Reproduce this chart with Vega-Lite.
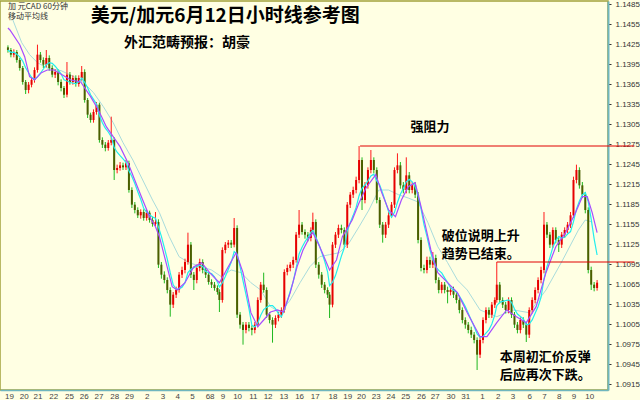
{
"$schema":"https://vega.github.io/schema/vega-lite/v6.json",
"width":608,"height":389,
"autosize":{"type":"none"},
"padding":{"left":0,"top":1,"right":32,"bottom":10},
"background":"#ffffe3",
"datasets":{
"candles":[
{"t":3,"o":1.1420,"h":1.1423,"l":1.1412,"c":1.1416},
{"t":6,"o":1.1416,"h":1.1419,"l":1.1405,"c":1.1409},
{"t":9,"o":1.1409,"h":1.1417,"l":1.1405,"c":1.1413},
{"t":12,"o":1.1413,"h":1.1416,"l":1.1397,"c":1.1401},
{"t":15,"o":1.1401,"h":1.1404,"l":1.1385,"c":1.1389},
{"t":18,"o":1.1389,"h":1.1392,"l":1.1364,"c":1.1368},
{"t":21,"o":1.1368,"h":1.1371,"l":1.1350,"c":1.1356},
{"t":24,"o":1.1356,"h":1.1368,"l":1.1351,"c":1.1364},
{"t":27,"o":1.1364,"h":1.1375,"l":1.1360,"c":1.1371},
{"t":30,"o":1.1371,"h":1.1390,"l":1.1367,"c":1.1386},
{"t":33,"o":1.1386,"h":1.1424,"l":1.1382,"c":1.1409},
{"t":36,"o":1.1409,"h":1.1413,"l":1.1397,"c":1.1401},
{"t":39,"o":1.1401,"h":1.1405,"l":1.1389,"c":1.1394},
{"t":42,"o":1.1394,"h":1.1416,"l":1.1390,"c":1.1404},
{"t":45,"o":1.1404,"h":1.1408,"l":1.1385,"c":1.1389},
{"t":48,"o":1.1389,"h":1.1393,"l":1.1375,"c":1.1379},
{"t":51,"o":1.1379,"h":1.1387,"l":1.1374,"c":1.1383},
{"t":54,"o":1.1383,"h":1.1387,"l":1.1363,"c":1.1368},
{"t":57,"o":1.1368,"h":1.1372,"l":1.1354,"c":1.1359},
{"t":60,"o":1.1359,"h":1.1362,"l":1.1344,"c":1.1349},
{"t":63,"o":1.1349,"h":1.1398,"l":1.1345,"c":1.1379},
{"t":66,"o":1.1379,"h":1.1383,"l":1.1364,"c":1.1368},
{"t":69,"o":1.1368,"h":1.1378,"l":1.1364,"c":1.1374},
{"t":72,"o":1.1374,"h":1.1378,"l":1.1361,"c":1.1365},
{"t":75,"o":1.1365,"h":1.1378,"l":1.1361,"c":1.1374},
{"t":78,"o":1.1374,"h":1.1392,"l":1.1370,"c":1.1383},
{"t":81,"o":1.1383,"h":1.1387,"l":1.1337,"c":1.1341},
{"t":84,"o":1.1341,"h":1.1344,"l":1.1314,"c":1.1319},
{"t":87,"o":1.1319,"h":1.1322,"l":1.1307,"c":1.1311},
{"t":90,"o":1.1311,"h":1.1327,"l":1.1307,"c":1.1323},
{"t":93,"o":1.1323,"h":1.1338,"l":1.1319,"c":1.1334},
{"t":96,"o":1.1334,"h":1.1337,"l":1.1277,"c":1.1281},
{"t":99,"o":1.1281,"h":1.1285,"l":1.1269,"c":1.1274},
{"t":102,"o":1.1274,"h":1.1278,"l":1.1264,"c":1.1269},
{"t":105,"o":1.1269,"h":1.1281,"l":1.1265,"c":1.1277},
{"t":108,"o":1.1277,"h":1.1316,"l":1.1273,"c":1.1281},
{"t":111,"o":1.1281,"h":1.1285,"l":1.1221,"c":1.1236},
{"t":114,"o":1.1236,"h":1.1244,"l":1.1231,"c":1.1239},
{"t":117,"o":1.1239,"h":1.1248,"l":1.1235,"c":1.1243},
{"t":120,"o":1.1243,"h":1.1247,"l":1.1236,"c":1.1240},
{"t":123,"o":1.1240,"h":1.1251,"l":1.1236,"c":1.1246},
{"t":126,"o":1.1246,"h":1.1250,"l":1.1202,"c":1.1206},
{"t":129,"o":1.1206,"h":1.1210,"l":1.1179,"c":1.1184},
{"t":132,"o":1.1184,"h":1.1188,"l":1.1171,"c":1.1176},
{"t":135,"o":1.1176,"h":1.1180,"l":1.1164,"c":1.1168},
{"t":138,"o":1.1168,"h":1.1177,"l":1.1163,"c":1.1173},
{"t":141,"o":1.1173,"h":1.1177,"l":1.1160,"c":1.1164},
{"t":144,"o":1.1164,"h":1.1176,"l":1.1160,"c":1.1172},
{"t":147,"o":1.1172,"h":1.1175,"l":1.1157,"c":1.1161},
{"t":150,"o":1.1161,"h":1.1166,"l":1.1151,"c":1.1155},
{"t":153,"o":1.1155,"h":1.1173,"l":1.1152,"c":1.1158},
{"t":156,"o":1.1158,"h":1.1162,"l":1.1089,"c":1.1094},
{"t":159,"o":1.1094,"h":1.1098,"l":1.1073,"c":1.1079},
{"t":162,"o":1.1079,"h":1.1084,"l":1.1066,"c":1.1071},
{"t":165,"o":1.1071,"h":1.1075,"l":1.1051,"c":1.1056},
{"t":168,"o":1.1056,"h":1.1060,"l":1.1016,"c":1.1034},
{"t":171,"o":1.1034,"h":1.1053,"l":1.1029,"c":1.1049},
{"t":174,"o":1.1049,"h":1.1061,"l":1.1044,"c":1.1056},
{"t":177,"o":1.1056,"h":1.1083,"l":1.1052,"c":1.1079},
{"t":180,"o":1.1079,"h":1.1091,"l":1.1074,"c":1.1086},
{"t":183,"o":1.1086,"h":1.1103,"l":1.1081,"c":1.1098},
{"t":186,"o":1.1098,"h":1.1142,"l":1.1094,"c":1.1124},
{"t":189,"o":1.1124,"h":1.1128,"l":1.1074,"c":1.1079},
{"t":192,"o":1.1079,"h":1.1083,"l":1.1056,"c":1.1071},
{"t":195,"o":1.1071,"h":1.1094,"l":1.1066,"c":1.1089},
{"t":198,"o":1.1089,"h":1.1103,"l":1.1084,"c":1.1098},
{"t":201,"o":1.1098,"h":1.1102,"l":1.1081,"c":1.1086},
{"t":204,"o":1.1086,"h":1.1090,"l":1.1074,"c":1.1079},
{"t":207,"o":1.1079,"h":1.1083,"l":1.1064,"c":1.1068},
{"t":210,"o":1.1068,"h":1.1072,"l":1.1059,"c":1.1064},
{"t":213,"o":1.1064,"h":1.1068,"l":1.1055,"c":1.1059},
{"t":216,"o":1.1059,"h":1.1063,"l":1.1049,"c":1.1053},
{"t":218,"o":1.1053,"h":1.1057,"l":1.1023,"c":1.1041},
{"t":221,"o":1.1041,"h":1.1120,"l":1.1037,"c":1.1116},
{"t":224,"o":1.1116,"h":1.1128,"l":1.1111,"c":1.1124},
{"t":227,"o":1.1124,"h":1.1131,"l":1.1119,"c":1.1127},
{"t":230,"o":1.1127,"h":1.1131,"l":1.1119,"c":1.1124},
{"t":233,"o":1.1124,"h":1.1164,"l":1.1120,"c":1.1149},
{"t":236,"o":1.1149,"h":1.1153,"l":1.1014,"c":1.1019},
{"t":239,"o":1.1019,"h":1.1023,"l":1.0998,"c":1.1004},
{"t":242,"o":1.1004,"h":1.1008,"l":1.0974,"c":1.0996},
{"t":245,"o":1.0996,"h":1.1008,"l":1.0991,"c":1.1004},
{"t":248,"o":1.1004,"h":1.1008,"l":1.0994,"c":1.0999},
{"t":251,"o":1.0999,"h":1.1003,"l":1.0988,"c":1.0996},
{"t":254,"o":1.0996,"h":1.1008,"l":1.0991,"c":1.1004},
{"t":257,"o":1.1004,"h":1.1045,"l":1.1000,"c":1.1041},
{"t":260,"o":1.1041,"h":1.1068,"l":1.1037,"c":1.1064},
{"t":263,"o":1.1064,"h":1.1082,"l":1.1052,"c":1.1056},
{"t":266,"o":1.1056,"h":1.1060,"l":1.1014,"c":1.1019},
{"t":269,"o":1.1019,"h":1.1023,"l":1.1006,"c":1.1011},
{"t":272,"o":1.1011,"h":1.1015,"l":1.0977,"c":1.1004},
{"t":275,"o":1.1004,"h":1.1018,"l":1.0999,"c":1.1014},
{"t":278,"o":1.1014,"h":1.1023,"l":1.1009,"c":1.1019},
{"t":281,"o":1.1019,"h":1.1030,"l":1.1014,"c":1.1026},
{"t":284,"o":1.1026,"h":1.1087,"l":1.1022,"c":1.1083},
{"t":287,"o":1.1083,"h":1.1094,"l":1.1078,"c":1.1089},
{"t":290,"o":1.1089,"h":1.1098,"l":1.1084,"c":1.1094},
{"t":293,"o":1.1094,"h":1.1106,"l":1.1089,"c":1.1101},
{"t":296,"o":1.1101,"h":1.1143,"l":1.1097,"c":1.1139},
{"t":299,"o":1.1139,"h":1.1176,"l":1.1134,"c":1.1154},
{"t":302,"o":1.1154,"h":1.1158,"l":1.1139,"c":1.1143},
{"t":305,"o":1.1143,"h":1.1147,"l":1.1133,"c":1.1139},
{"t":308,"o":1.1139,"h":1.1143,"l":1.1129,"c":1.1134},
{"t":311,"o":1.1134,"h":1.1150,"l":1.1129,"c":1.1146},
{"t":313,"o":1.1146,"h":1.1172,"l":1.1142,"c":1.1158},
{"t":316,"o":1.1158,"h":1.1162,"l":1.1089,"c":1.1094},
{"t":319,"o":1.1094,"h":1.1098,"l":1.1073,"c":1.1079},
{"t":322,"o":1.1079,"h":1.1083,"l":1.1059,"c":1.1064},
{"t":325,"o":1.1064,"h":1.1068,"l":1.1051,"c":1.1056},
{"t":328,"o":1.1056,"h":1.1060,"l":1.1044,"c":1.1049},
{"t":330,"o":1.1049,"h":1.1053,"l":1.1014,"c":1.1034},
{"t":333,"o":1.1034,"h":1.1128,"l":1.1030,"c":1.1124},
{"t":336,"o":1.1124,"h":1.1143,"l":1.1119,"c":1.1139},
{"t":339,"o":1.1139,"h":1.1154,"l":1.1134,"c":1.1149},
{"t":342,"o":1.1149,"h":1.1154,"l":1.1141,"c":1.1146},
{"t":345,"o":1.1146,"h":1.1150,"l":1.1119,"c":1.1124},
{"t":348,"o":1.1124,"h":1.1188,"l":1.1119,"c":1.1184},
{"t":351,"o":1.1184,"h":1.1203,"l":1.1179,"c":1.1199},
{"t":354,"o":1.1199,"h":1.1211,"l":1.1194,"c":1.1206},
{"t":357,"o":1.1206,"h":1.1226,"l":1.1201,"c":1.1221},
{"t":360,"o":1.1221,"h":1.1272,"l":1.1216,"c":1.1251},
{"t":363,"o":1.1251,"h":1.1255,"l":1.1176,"c":1.1191},
{"t":366,"o":1.1191,"h":1.1218,"l":1.1186,"c":1.1213},
{"t":369,"o":1.1213,"h":1.1240,"l":1.1208,"c":1.1236},
{"t":372,"o":1.1236,"h":1.1266,"l":1.1231,"c":1.1251},
{"t":375,"o":1.1251,"h":1.1255,"l":1.1231,"c":1.1236},
{"t":378,"o":1.1236,"h":1.1240,"l":1.1186,"c":1.1191},
{"t":381,"o":1.1191,"h":1.1195,"l":1.1149,"c":1.1154},
{"t":384,"o":1.1154,"h":1.1158,"l":1.1127,"c":1.1139},
{"t":387,"o":1.1139,"h":1.1158,"l":1.1134,"c":1.1154},
{"t":390,"o":1.1154,"h":1.1173,"l":1.1149,"c":1.1168},
{"t":393,"o":1.1168,"h":1.1188,"l":1.1164,"c":1.1184},
{"t":396,"o":1.1184,"h":1.1240,"l":1.1179,"c":1.1236},
{"t":399,"o":1.1236,"h":1.1261,"l":1.1231,"c":1.1243},
{"t":402,"o":1.1243,"h":1.1248,"l":1.1208,"c":1.1213},
{"t":405,"o":1.1213,"h":1.1218,"l":1.1201,"c":1.1206},
{"t":408,"o":1.1206,"h":1.1255,"l":1.1201,"c":1.1228},
{"t":411,"o":1.1228,"h":1.1233,"l":1.1201,"c":1.1206},
{"t":414,"o":1.1206,"h":1.1218,"l":1.1201,"c":1.1213},
{"t":417,"o":1.1213,"h":1.1218,"l":1.1194,"c":1.1199},
{"t":420,"o":1.1199,"h":1.1203,"l":1.1126,"c":1.1131},
{"t":423,"o":1.1131,"h":1.1135,"l":1.1084,"c":1.1089},
{"t":426,"o":1.1089,"h":1.1094,"l":1.1081,"c":1.1086},
{"t":429,"o":1.1086,"h":1.1106,"l":1.1081,"c":1.1101},
{"t":432,"o":1.1101,"h":1.1106,"l":1.1089,"c":1.1094},
{"t":435,"o":1.1094,"h":1.1113,"l":1.1089,"c":1.1104},
{"t":438,"o":1.1104,"h":1.1109,"l":1.1066,"c":1.1071},
{"t":441,"o":1.1071,"h":1.1075,"l":1.1051,"c":1.1056},
{"t":444,"o":1.1056,"h":1.1068,"l":1.1051,"c":1.1064},
{"t":447,"o":1.1064,"h":1.1068,"l":1.1051,"c":1.1056},
{"t":450,"o":1.1056,"h":1.1061,"l":1.1036,"c":1.1053},
{"t":453,"o":1.1053,"h":1.1061,"l":1.1048,"c":1.1056},
{"t":456,"o":1.1056,"h":1.1061,"l":1.1044,"c":1.1049},
{"t":459,"o":1.1049,"h":1.1053,"l":1.1036,"c":1.1041},
{"t":462,"o":1.1041,"h":1.1045,"l":1.1021,"c":1.1026},
{"t":465,"o":1.1026,"h":1.1030,"l":1.1006,"c":1.1011},
{"t":468,"o":1.1011,"h":1.1015,"l":1.0998,"c":1.1004},
{"t":471,"o":1.1004,"h":1.1008,"l":1.0991,"c":1.0996},
{"t":474,"o":1.0996,"h":1.1001,"l":1.0984,"c":1.0989},
{"t":477,"o":1.0989,"h":1.0993,"l":1.0976,"c":1.0981},
{"t":480,"o":1.0981,"h":1.0985,"l":1.0936,"c":1.0959},
{"t":483,"o":1.0959,"h":1.0986,"l":1.0954,"c":1.0981},
{"t":486,"o":1.0981,"h":1.1015,"l":1.0976,"c":1.1011},
{"t":489,"o":1.1011,"h":1.1030,"l":1.1006,"c":1.1026},
{"t":492,"o":1.1026,"h":1.1030,"l":1.1014,"c":1.1019},
{"t":495,"o":1.1019,"h":1.1038,"l":1.1014,"c":1.1034},
{"t":498,"o":1.1034,"h":1.1045,"l":1.1029,"c":1.1041},
{"t":500,"o":1.1041,"h":1.1098,"l":1.1037,"c":1.1064},
{"t":503,"o":1.1064,"h":1.1068,"l":1.1036,"c":1.1041},
{"t":506,"o":1.1041,"h":1.1045,"l":1.1029,"c":1.1034},
{"t":509,"o":1.1034,"h":1.1038,"l":1.1021,"c":1.1026},
{"t":512,"o":1.1026,"h":1.1045,"l":1.1021,"c":1.1041},
{"t":515,"o":1.1041,"h":1.1045,"l":1.1014,"c":1.1019},
{"t":518,"o":1.1019,"h":1.1023,"l":1.0999,"c":1.1004},
{"t":521,"o":1.1004,"h":1.1008,"l":1.0991,"c":1.0996},
{"t":524,"o":1.0996,"h":1.1015,"l":1.0991,"c":1.1011},
{"t":527,"o":1.1011,"h":1.1015,"l":1.0999,"c":1.1004},
{"t":530,"o":1.1004,"h":1.1008,"l":1.0978,"c":1.0989},
{"t":533,"o":1.0989,"h":1.1030,"l":1.0984,"c":1.1026},
{"t":536,"o":1.1026,"h":1.1045,"l":1.1021,"c":1.1041},
{"t":539,"o":1.1041,"h":1.1060,"l":1.1036,"c":1.1056},
{"t":542,"o":1.1056,"h":1.1075,"l":1.1051,"c":1.1071},
{"t":545,"o":1.1071,"h":1.1091,"l":1.1066,"c":1.1086},
{"t":548,"o":1.1086,"h":1.1173,"l":1.1081,"c":1.1154},
{"t":551,"o":1.1154,"h":1.1158,"l":1.1134,"c":1.1139},
{"t":554,"o":1.1139,"h":1.1143,"l":1.1119,"c":1.1124},
{"t":557,"o":1.1124,"h":1.1150,"l":1.1119,"c":1.1146},
{"t":560,"o":1.1146,"h":1.1150,"l":1.1126,"c":1.1131},
{"t":563,"o":1.1131,"h":1.1135,"l":1.1113,"c":1.1124},
{"t":566,"o":1.1124,"h":1.1143,"l":1.1119,"c":1.1139},
{"t":569,"o":1.1139,"h":1.1150,"l":1.1134,"c":1.1146},
{"t":572,"o":1.1146,"h":1.1158,"l":1.1141,"c":1.1154},
{"t":575,"o":1.1154,"h":1.1173,"l":1.1149,"c":1.1168},
{"t":578,"o":1.1168,"h":1.1226,"l":1.1164,"c":1.1221},
{"t":581,"o":1.1221,"h":1.1244,"l":1.1216,"c":1.1236},
{"t":584,"o":1.1236,"h":1.1240,"l":1.1208,"c":1.1213},
{"t":587,"o":1.1213,"h":1.1218,"l":1.1194,"c":1.1199},
{"t":590,"o":1.1199,"h":1.1203,"l":1.1171,"c":1.1176},
{"t":593,"o":1.1176,"h":1.1180,"l":1.1081,"c":1.1086},
{"t":596,"o":1.1086,"h":1.1091,"l":1.1056,"c":1.1064},
{"t":599,"o":1.1064,"h":1.1068,"l":1.1054,"c":1.1059},
{"t":602,"o":1.1059,"h":1.1071,"l":1.1055,"c":1.1067}
],
"ma_mid":[
{"t":3,"v":1.1449},{"t":5,"v":1.1446},{"t":15,"v":1.1424},{"t":20,"v":1.1406},{"t":25,"v":1.1376},{"t":30,"v":1.1371},{"t":37,"v":1.1382},{"t":43,"v":1.1386},{"t":50,"v":1.1386},{"t":58,"v":1.1379},{"t":67,"v":1.1371},{"t":77,"v":1.1368},{"t":87,"v":1.1346},{"t":95,"v":1.1326},{"t":103,"v":1.1301},{"t":110,"v":1.1286},{"t":117,"v":1.1271},{"t":125,"v":1.1247},{"t":133,"v":1.1217},{"t":140,"v":1.1191},{"t":147,"v":1.1166},{"t":153,"v":1.1151},{"t":157,"v":1.1136},{"t":170,"v":1.1061},{"t":175,"v":1.1056},{"t":183,"v":1.1067},{"t":192,"v":1.1091},{"t":200,"v":1.1097},{"t":208,"v":1.1082},{"t":218,"v":1.1067},{"t":227,"v":1.1091},{"t":235,"v":1.1112},{"t":242,"v":1.1082},{"t":250,"v":1.1022},{"t":257,"v":1.1001},{"t":263,"v":1.1011},{"t":270,"v":1.1023},{"t":277,"v":1.1026},{"t":283,"v":1.1023},{"t":290,"v":1.1052},{"t":297,"v":1.1091},{"t":303,"v":1.1116},{"t":310,"v":1.1136},{"t":313,"v":1.1142},{"t":320,"v":1.1121},{"t":330,"v":1.1086},{"t":337,"v":1.1101},{"t":343,"v":1.1136},{"t":353,"v":1.1161},{"t":360,"v":1.1187},{"t":367,"v":1.1209},{"t":377,"v":1.1229},{"t":383,"v":1.1202},{"t":390,"v":1.1176},{"t":397,"v":1.1166},{"t":403,"v":1.1191},{"t":410,"v":1.1211},{"t":417,"v":1.1217},{"t":423,"v":1.1181},{"t":433,"v":1.1116},{"t":440,"v":1.1082},{"t":450,"v":1.1067},{"t":460,"v":1.1052},{"t":470,"v":1.1022},{"t":483,"v":1.0986},{"t":490,"v":1.0986},{"t":500,"v":1.1007},{"t":510,"v":1.1026},{"t":520,"v":1.1016},{"t":530,"v":1.1007},{"t":540,"v":1.1031},{"t":550,"v":1.1082},{"t":560,"v":1.1121},{"t":570,"v":1.1142},{"t":580,"v":1.1172},{"t":587,"v":1.1196},{"t":592,"v":1.1196},{"t":597,"v":1.1172},{"t":602,"v":1.1142}
],
"ma_long":[
{"t":8,"v":1.1461},{"t":17,"v":1.1427},{"t":25,"v":1.1409},{"t":33,"v":1.1397},{"t":43,"v":1.1389},{"t":57,"v":1.1385},{"t":70,"v":1.1376},{"t":80,"v":1.1367},{"t":90,"v":1.1352},{"t":100,"v":1.1331},{"t":110,"v":1.1307},{"t":120,"v":1.1277},{"t":130,"v":1.1251},{"t":140,"v":1.1221},{"t":150,"v":1.1191},{"t":157,"v":1.1172},{"t":167,"v":1.1136},{"t":177,"v":1.1106},{"t":187,"v":1.1097},{"t":200,"v":1.1091},{"t":210,"v":1.1086},{"t":220,"v":1.1076},{"t":230,"v":1.1086},{"t":240,"v":1.1082},{"t":250,"v":1.1067},{"t":260,"v":1.1056},{"t":270,"v":1.1031},{"t":280,"v":1.1022},{"t":290,"v":1.1041},{"t":300,"v":1.1067},{"t":310,"v":1.1091},{"t":320,"v":1.1106},{"t":330,"v":1.1109},{"t":340,"v":1.1112},{"t":350,"v":1.1127},{"t":360,"v":1.1151},{"t":370,"v":1.1176},{"t":380,"v":1.1206},{"t":390,"v":1.1206},{"t":400,"v":1.1199},{"t":410,"v":1.1194},{"t":420,"v":1.1188},{"t":430,"v":1.1157},{"t":440,"v":1.1121},{"t":450,"v":1.1097},{"t":460,"v":1.1071},{"t":470,"v":1.1056},{"t":483,"v":1.1026},{"t":500,"v":1.1016},{"t":517,"v":1.1026},{"t":533,"v":1.1022},{"t":550,"v":1.1056},{"t":567,"v":1.1101},{"t":583,"v":1.1146},{"t":590,"v":1.1161},{"t":597,"v":1.1158}
]
},
"layer":[
{"data":{"name":"ma_long"},"mark":{"type":"line","color":"#a9dcdc","strokeWidth":1},
 "encoding":{
  "x":{"field":"t","type":"quantitative","scale":{"domain":[0,608],"nice":false,"zero":false},
   "axis":{"orient":"bottom","title":null,"tickCount":100,"values":[4,19,33,49,65,80,95,111,126,144,160,175,190,208,221,236,252,267,283,299,315,333,348,362,377,392,407,423,437,453,468,485,501,516,533,548,563,578,594],
    "labelExpr":"['19','20','21','22','25','26','27','28','29','2','3','4','5','68','9','10','11','12','13','16','17','18','19','20','23','24','25','26','27','30','31','1','2','3','6','7','8','9','10'][indexof([4,19,33,49,65,80,95,111,126,144,160,175,190,208,221,236,252,267,283,299,315,333,348,362,377,392,407,423,437,453,468,485,501,516,533,548,563,578,594], datum.value)]",
    "labelOverlap":false}},
  "y":{"field":"v","type":"quantitative","scale":{"domain":[1.0906,1.14895],"nice":false,"zero":false},
   "axis":{"orient":"right","title":null,"tickCount":100,"values":[1.0915,1.0945,1.0975,1.1005,1.1035,1.1065,1.1095,1.1125,1.1155,1.1185,1.1215,1.1245,1.1275,1.1305,1.1335,1.1365,1.1395,1.1425,1.1455,1.1485],
    "format":".4f","labelOverlap":false}}
 }},
{"data":{"name":"candles"},"mark":{"type":"rule","strokeWidth":1},
 "encoding":{"x":{"field":"t","type":"quantitative"},"y":{"field":"l","type":"quantitative"},"y2":{"field":"h"},
  "color":{"condition":{"test":"datum.c >= datum.o","value":"#ff1a1a"},"value":"#1fb81f"}}},
{"data":{"name":"candles"},"mark":{"type":"bar","width":2},
 "encoding":{"x":{"field":"t","type":"quantitative"},"y":{"field":"o","type":"quantitative"},"y2":{"field":"c"},
  "color":{"condition":{"test":"datum.c >= datum.o","value":"#e60000"},"value":"#4b5e00"}}},
{"data":{"name":"candles"},"transform":[{"window":[{"op":"mean","field":"c","as":"ma"}],"sort":[{"field":"t"}],"frame":[-5,0]}],
 "mark":{"type":"line","color":"#22eeee","strokeWidth":1.2},
 "encoding":{"x":{"field":"t","type":"quantitative"},"y":{"field":"ma","type":"quantitative"}}},
{"data":{"name":"ma_mid"},"mark":{"type":"line","color":"#a64dff","strokeWidth":1.2},
 "encoding":{"x":{"field":"t","type":"quantitative"},"y":{"field":"v","type":"quantitative"}}},
{"data":{"values":[{}]},"mark":{"type":"rule","color":"#e00000","strokeWidth":1},
 "encoding":{"x":{"datum":361,"type":"quantitative"},"x2":{"datum":640},"y":{"datum":1.1272,"type":"quantitative"}}},
{"data":{"values":[{}]},"mark":{"type":"rule","color":"#e00000","strokeWidth":1},
 "encoding":{"x":{"datum":500,"type":"quantitative"},"x2":{"datum":640},"y":{"datum":1.1098,"type":"quantitative"}}},
{"data":{"values":[{}]},"mark":{"type":"text","text":"美元/加元6月12日小时线参考图","font":"Noto Sans CJK SC","fontSize":19,"fontWeight":"bold","align":"center","baseline":"middle","color":"#000000"},
 "encoding":{"x":{"datum":224,"type":"quantitative"},"y":{"datum":1.1467,"type":"quantitative"}}},
{"data":{"values":[{}]},"mark":{"type":"text","text":"外汇范畴预报：胡豪","font":"Noto Sans CJK SC","fontSize":14,"fontWeight":"bold","align":"center","baseline":"middle","color":"#000000"},
 "encoding":{"x":{"datum":185,"type":"quantitative"},"y":{"datum":1.1427,"type":"quantitative"}}},
{"data":{"values":[{}]},"mark":{"type":"text","text":"加    元CAD     60分钟","font":"Noto Sans CJK SC","fontSize":8,"align":"left","baseline":"middle","color":"#333333"},
 "encoding":{"x":{"datum":3,"type":"quantitative"},"y":{"datum":1.1481,"type":"quantitative"}}},
{"data":{"values":[{}]},"mark":{"type":"text","text":"移动平均线","font":"Noto Sans CJK SC","fontSize":8,"align":"left","baseline":"middle","color":"#333333"},
 "encoding":{"x":{"datum":3,"type":"quantitative"},"y":{"datum":1.1465,"type":"quantitative"}}},
{"data":{"values":[{}]},"mark":{"type":"text","text":"强阻力","font":"Noto Sans CJK SC","fontSize":13,"fontWeight":"bold","align":"center","baseline":"middle","color":"#000000"},
 "encoding":{"x":{"datum":432,"type":"quantitative"},"y":{"datum":1.1300,"type":"quantitative"}}},
{"data":{"values":[{}]},"mark":{"type":"text","text":"破位说明上升","font":"Noto Sans CJK SC","fontSize":13,"fontWeight":"bold","align":"left","baseline":"middle","color":"#000000"},
 "encoding":{"x":{"datum":444,"type":"quantitative"},"y":{"datum":1.1137,"type":"quantitative"}}},
{"data":{"values":[{}]},"mark":{"type":"text","text":"趋势已结束。","font":"Noto Sans CJK SC","fontSize":13,"fontWeight":"bold","align":"left","baseline":"middle","color":"#000000"},
 "encoding":{"x":{"datum":444,"type":"quantitative"},"y":{"datum":1.1110,"type":"quantitative"}}},
{"data":{"values":[{}]},"mark":{"type":"text","text":"本周初汇价反弹","font":"Noto Sans CJK SC","fontSize":13,"fontWeight":"bold","align":"left","baseline":"middle","color":"#000000"},
 "encoding":{"x":{"datum":503,"type":"quantitative"},"y":{"datum":1.0956,"type":"quantitative"}}},
{"data":{"values":[{}]},"mark":{"type":"text","text":"后应再次下跌。","font":"Noto Sans CJK SC","fontSize":13,"fontWeight":"bold","align":"left","baseline":"middle","color":"#000000"},
 "encoding":{"x":{"datum":503,"type":"quantitative"},"y":{"datum":1.0929,"type":"quantitative"}}}
],
"config":{
 "view":{"stroke":"#a3a33c","strokeWidth":1.5,"fill":"#ffffe3"},
 "axis":{"labelOverlap":false,"labelSeparation":0,"grid":false,"labelBound":false,"labelFlush":false},
 "axisX":{"ticks":false,"labelPadding":2,"labelFontSize":8,"labelFont":"Liberation Sans","labelColor":"#444444","domainColor":"#6fb6bf","domainWidth":1.5,"labelOverlap":false,"labelFlush":false,"labelBound":false},
 "axisY":{"tickSize":3,"labelPadding":4,"labelFontSize":8,"labelFont":"Liberation Sans","labelColor":"#333333","tickColor":"#333333","domainColor":"#6fb6bf","domainWidth":2,"labelOverlap":false,"labelBound":false,"labelFlush":false}
}
}
